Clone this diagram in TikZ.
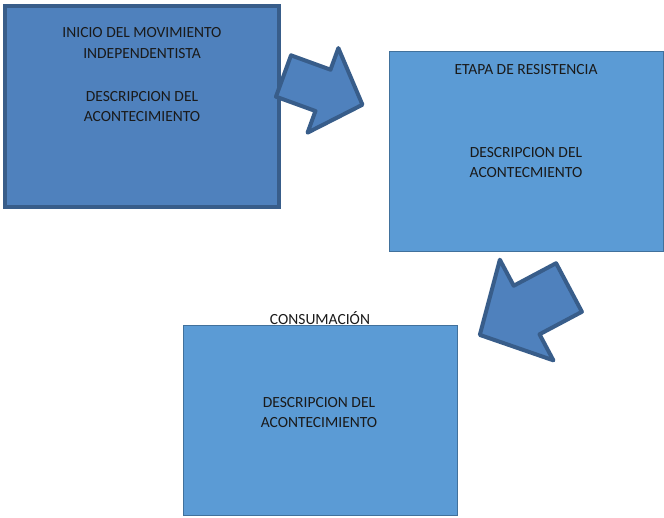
\documentclass[tikz,border=0pt]{standalone}
\usepackage{fontspec}
\setmainfont{Carlito}
\definecolor{darkfill}{HTML}{4F81BD}
\definecolor{darkline}{HTML}{385D8A}
\definecolor{lightfill}{HTML}{5B9BD5}
\definecolor{lightline}{HTML}{41719C}
\definecolor{txt}{HTML}{1A1A1A}
\tikzset{
  boxdark/.style={draw=darkline, fill=darkfill, line width=4pt},
  boxlight/.style={draw=lightline, fill=lightfill, line width=1pt},
  blockarrow/.style={draw=darkline, fill=darkfill, line width=4pt, line join=round},
  lbl/.style={anchor=base, inner sep=0pt, text=txt, font=\fontsize{15.5}{19}\selectfont}
}
\begin{document}
\begin{tikzpicture}[x=1pt,y=-1pt]
\useasboundingbox (0,0) rectangle (664,518);
% boxes
\path[boxdark] (5,6) rectangle (279,207);
\path[boxlight] (389,52) rectangle (663,252);
\path[boxlight] (183,326) rectangle (457,515);
% arrow 1
\begin{scope}[shift={(283.5,76)}, rotate=-20]
\path[blockarrow] (0,-22) -- (42,-22) -- (42,-45) -- (84,0) -- (42,45) -- (42,22) -- (0,22) -- cycle;
\end{scope}
% arrow 2
\begin{scope}[shift={(569,287.5)}, rotate=-152]
\path[blockarrow] (0,-27.5) -- (48,-27.5) -- (48,-57) -- (101,0) -- (48,57) -- (48,27.5) -- (0,27.5) -- cycle;
\end{scope}
% texts
\node[lbl] (t1a) at (142,38) {INICIO DEL MOVIMIENTO};
\node[lbl] (t1b) at (142,59) {INDEPENDENTISTA};
\node[lbl] (t1c) at (142,102) {DESCRIPCION DEL};
\node[lbl] (t1d) at (142,122) {ACONTECIMIENTO};
\node[lbl] (t2a) at (526,75) {ETAPA DE RESISTENCIA};
\node[lbl] (t2b) at (526,158) {DESCRIPCION DEL};
\node[lbl] (t2c) at (526,178) {ACONTECMIENTO};
\node[lbl] (t3a) at (320,325) {CONSUMACIÓN};
\node[lbl] (t3b) at (319,408) {DESCRIPCION DEL};
\node[lbl] (t3c) at (319,428) {ACONTECIMIENTO};
\end{tikzpicture}
\end{document}
